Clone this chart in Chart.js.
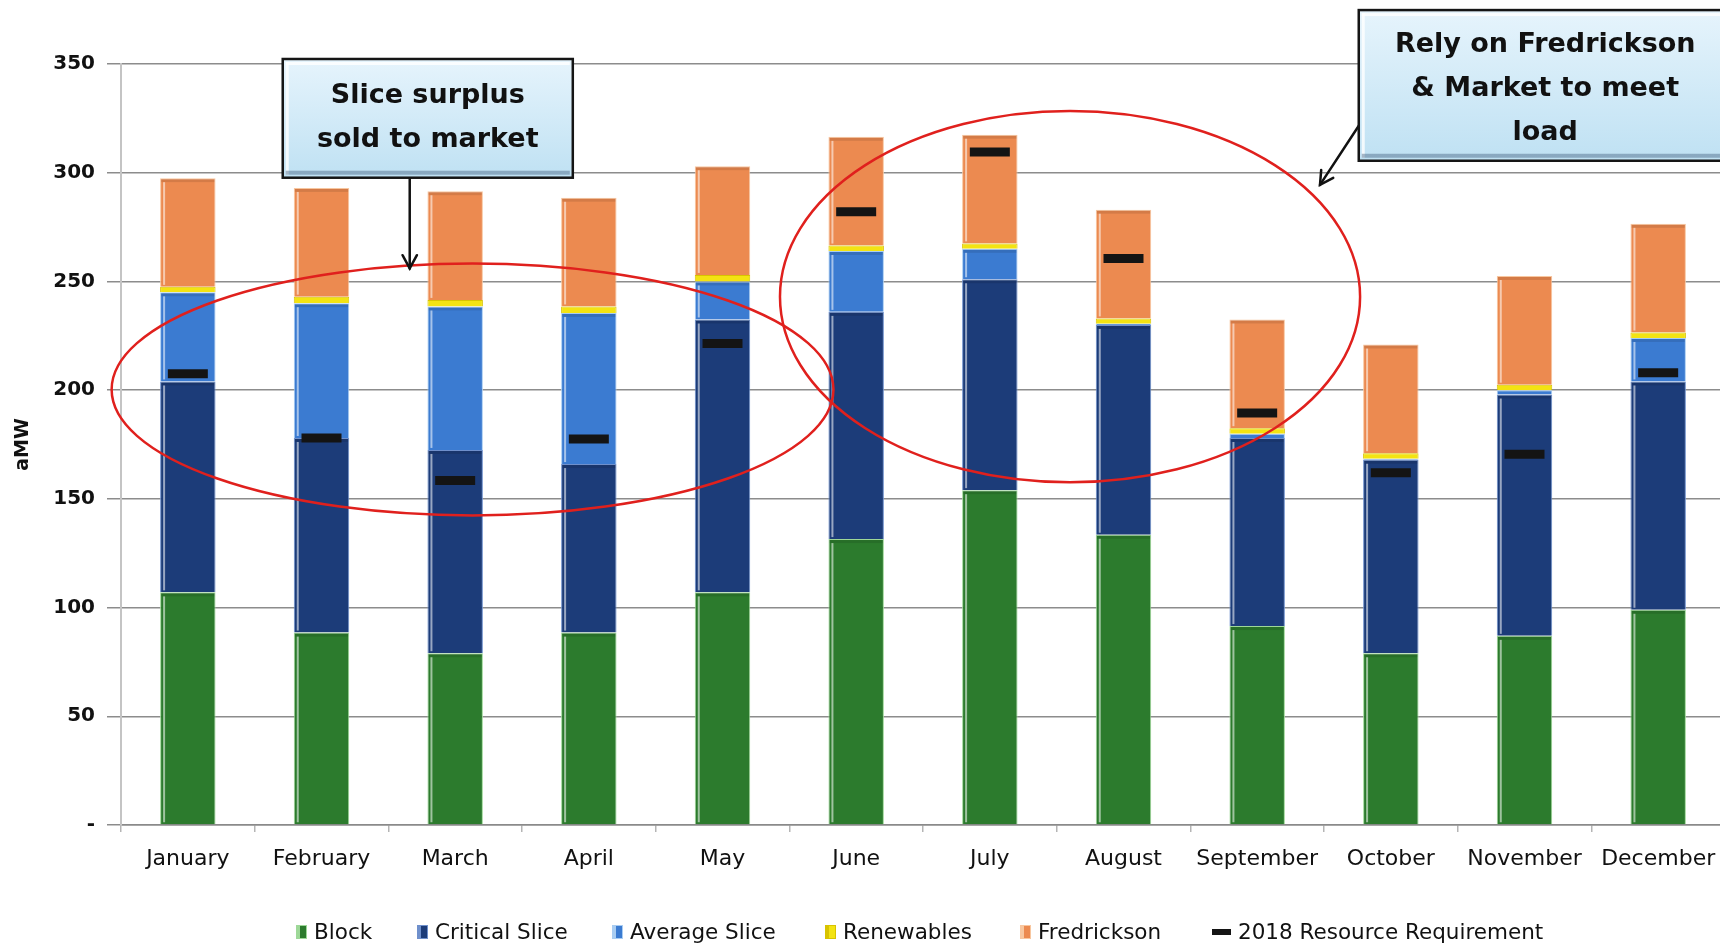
<!DOCTYPE html>
<html lang="en">
<head>
<meta charset="utf-8">
<title>Monthly Resource Stack</title>
<script src="https://cdn.jsdelivr.net/npm/chart.js@4.4.1/dist/chart.umd.min.js"></script>
<style>
  html, body { margin: 0; padding: 0; background: #fff; overflow: hidden; }
  #wrap { position: relative; width: 1732px; height: 947px; overflow: hidden; }
  #chart { position: absolute; left: 0; top: 0; }
  #legend {
    position: absolute; left: 0; top: 919px; width: 1720px; height: 26px;
    font-family: "DejaVu Sans", sans-serif; font-size: 21.5px; color: #111;
    white-space: nowrap; line-height: 26px;
  }
  #legend .item { position: absolute; top: 0; display: flex; align-items: center; gap: 7px; }
  #legend .sw { width: 11px; height: 14px; box-sizing: border-box; }
  #legend .dash { width: 19px; height: 6px; background: #141414; }
</style>
</head>
<body>
<div id="wrap">
  <canvas id="chart" width="1732" height="947"></canvas>
  <div id="legend"></div>
</div>
<script>
// aMW by month, stacked by resource
const months = ["January", "February", "March", "April", "May", "June",
  "July", "August", "September", "October", "November", "December"];
const block = [107, 88.5, 79, 88.5, 107, 131.5, 154, 133.5, 91.5, 79, 87, 99];
const criticalSlice = [97, 89.5, 93.5, 77.5, 125.5, 104.5, 97, 96.5, 86.5, 89, 111, 105];
const averageSlice = [41, 62, 66, 69.5, 17.5, 28, 14, 0.5, 2, 0.5, 2, 20];
const renewables = [2.5, 3, 3, 3, 3, 2.5, 2.5, 2.5, 2.5, 2.5, 2.5, 2.5];
const fredrickson = [50, 50, 50, 50, 50, 50, 50, 50, 50, 50, 50, 50];
const requirement2018 = [207.5, 178, 158.5, 177.5, 221.5, 282, 309.5, 260.5, 189.5, 162, 170.5, 208];
const yMax = 350;
const yStep = 50;

// callouts, placed in axis units (category index, aMW)
const ellipses = [
  { cx: 2.13, cy: 200.3, rx: 2.70, ry: 57.9 },
  { cx: 6.60, cy: 243, rx: 2.17, ry: 85.4 }
];
const boxes = [
  { x0: 0.71, x1: 2.88, y0: 352.3, y1: 297.7, lines: ["Slice surplus", "sold to market"], shift: 0 },
  { x0: 8.76, x1: 11.55, y0: 374.8, y1: 305.5, lines: ["Rely on Fredrickson", "& Market to meet", "load"], shift: 4 }
];
const arrows = [
  { from: [1.66, 297.7], to: [1.66, 256] },
  { from: [8.77, 322.5], to: [8.47, 294.4] }
];

const stack = [
  { label: "Block", data: block, color: "#2c7b2d", edge: "#9ed898" },
  { label: "Critical Slice", data: criticalSlice, color: "#1c3c79", edge: "#6f90cc" },
  { label: "Average Slice", data: averageSlice, color: "#3b7bd1", edge: "#a9cdf2" },
  { label: "Renewables", data: renewables, color: "#f3e312", edge: "#d8c300" },
  { label: "Fredrickson", data: fredrickson, color: "#ec8a50", edge: "#f8c7a0" }
];

const datasets = stack.map(s => ({
  type: "bar",
  label: s.label,
  data: s.data,
  backgroundColor: s.color,
  borderColor: s.edge,
  borderWidth: 1,
  barPercentage: 0.415,
  categoryPercentage: 1,
  stack: "res",
  order: 1
}));
datasets.push({
  type: "line",
  label: "2018 Resource Requirement",
  data: requirement2018,
  showLine: false,
  pointStyle: "line",
  pointRadius: 20,
  pointHoverRadius: 20,
  pointBorderWidth: 9,
  pointBorderColor: "#141414",
  borderColor: "#141414",
  stack: "req",
  order: 0
});

// light left edge on each bar segment
const bevel = {
  id: "bevel",
  afterDatasetDraw(chart, args) {
    const meta = args.meta;
    if (meta.type !== "bar") return;
    const ctx = chart.ctx;
    ctx.save();
    meta.data.forEach(bar => {
      const p = bar.getProps(["x", "y", "base", "width"], true);
      const top = Math.min(p.y, p.base);
      const h = Math.abs(p.base - p.y);
      if (h < 7) return;
      const left = p.x - p.width / 2;
      ctx.fillStyle = "rgba(255,255,255,0.55)";
      ctx.fillRect(left + 3, top + 4, 2, h - 6);
      ctx.fillStyle = "rgba(0,0,0,0.10)";
      ctx.fillRect(left + 1, top + 1, p.width - 2, 3);
    });
    ctx.restore();
  }
};

function arrowHead(ctx, x0, y0, x1, y1, len) {
  const a = Math.atan2(y1 - y0, x1 - x0);
  ctx.beginPath();
  ctx.moveTo(x1 - len * Math.cos(a - 0.5), y1 - len * Math.sin(a - 0.5));
  ctx.lineTo(x1, y1);
  ctx.lineTo(x1 - len * Math.cos(a + 0.5), y1 - len * Math.sin(a + 0.5));
  ctx.stroke();
}

const callouts = {
  id: "callouts",
  afterDraw(chart) {
    const { ctx, scales: { x, y } } = chart;
    const px = v => x.getPixelForValue(v);
    const py = v => y.getPixelForValue(v);
    const ux = px(1) - px(0);
    const uy = py(0) - py(1);
    ctx.save();

    ctx.strokeStyle = "#e0201d";
    ctx.lineWidth = 2.5;
    ellipses.forEach(e => {
      ctx.beginPath();
      ctx.ellipse(px(e.cx), py(e.cy), e.rx * ux, e.ry * uy, 0, 0, Math.PI * 2);
      ctx.stroke();
    });

    ctx.strokeStyle = "#111";
    ctx.lineWidth = 2.5;
    ctx.lineCap = "round";
    arrows.forEach(a => {
      const x0 = px(a.from[0]), y0 = py(a.from[1]);
      const x1 = px(a.to[0]), y1 = py(a.to[1]);
      ctx.beginPath();
      ctx.moveTo(x0, y0);
      ctx.lineTo(x1, y1);
      ctx.stroke();
      arrowHead(ctx, x0, y0, x1, y1, 15);
    });

    boxes.forEach(b => {
      const l = px(b.x0), r = px(b.x1), t = py(b.y0), btm = py(b.y1);
      const g = ctx.createLinearGradient(0, t, 0, btm);
      g.addColorStop(0, "#e6f4fc");
      g.addColorStop(1, "#bfe1f3");
      ctx.fillStyle = g;
      ctx.fillRect(l, t, r - l, btm - t);
      // inner bevel
      ctx.fillStyle = "rgba(255,255,255,0.8)";
      ctx.fillRect(l + 3, t + 3, r - l - 6, 3);
      ctx.fillRect(l + 3, t + 3, 3, btm - t - 6);
      ctx.fillStyle = "rgba(70,100,130,0.45)";
      ctx.fillRect(l + 3, btm - 7, r - l - 6, 4);
      ctx.lineWidth = 2.5;
      ctx.strokeStyle = "#151515";
      ctx.strokeRect(l, t, r - l, btm - t);

      ctx.fillStyle = "#111";
      ctx.font = "bold 27px 'DejaVu Sans'";
      ctx.textAlign = "center";
      ctx.textBaseline = "middle";
      const lh = 44;
      const cy = (t + btm) / 2 + b.shift - (b.lines.length - 1) * lh / 2;
      b.lines.forEach((txt, i) => ctx.fillText(txt, (l + r) / 2, cy + i * lh));
    });
    ctx.restore();
  }
};

new Chart(document.getElementById("chart"), {
  data: { labels: months, datasets },
  options: {
    responsive: false,
    devicePixelRatio: 1,
    animation: false,
    // the wide requirement markers would otherwise pad the plot edges
    layout: { autoPadding: false, padding: { top: 64, right: 7, bottom: 0, left: 0 } },
    plugins: {
      legend: { display: false },
      tooltip: { enabled: false }
    },
    scales: {
      x: {
        stacked: true,
        grid: { display: true, drawOnChartArea: false, drawTicks: true, tickLength: 7, color: "#b5b5b5", lineWidth: 1.5 },
        border: { display: true, color: "#8a8a8a", width: 1.5 },
        ticks: { font: { family: "DejaVu Sans", size: 22 }, color: "#111", padding: 14 },
        afterFit: s => {
          s.height = 122;
          s.paddingLeft = 0;
          s.paddingRight = 0;
        }
      },
      y: {
        stacked: true,
        min: 0,
        max: yMax,
        ticks: {
          stepSize: yStep,
          font: { family: "DejaVu Sans", size: 20, weight: "bold" },
          color: "#111",
          padding: 12,
          callback: v => (v === 0 ? "-" : v)
        },
        grid: { color: "#8c8c8c", lineWidth: 1.5, tickLength: 14 },
        border: { display: true, color: "#c4c4c4", width: 2 },
        title: {
          display: true,
          text: "aMW",
          font: { family: "DejaVu Sans", size: 19, weight: "bold" },
          color: "#111",
          padding: { top: 12, bottom: 0 }
        },
        afterFit: s => {
          s.width = 121;
          s.paddingTop = 0;
          s.paddingBottom = 0;
        }
      }
    }
  },
  plugins: [bevel, callouts]
});

// legend row under the axis
const legendEl = document.getElementById("legend");
const legendLeft = [296, 417, 612, 825, 1020, 1212];
const legendItems = stack.map(s => ({ label: s.label, color: s.color, edge: s.edge }));
legendItems.push({ label: "2018 Resource Requirement", dash: true });
legendItems.forEach((it, i) => {
  const item = document.createElement("div");
  item.className = "item";
  item.style.left = legendLeft[i] + "px";
  const sw = document.createElement("span");
  if (it.dash) {
    sw.className = "dash";
  } else {
    sw.className = "sw";
    sw.style.background = `linear-gradient(to right, ${it.edge} 0 3px, ${it.color} 3px)`;
    sw.style.border = `1px solid ${it.edge}`;
  }
  const txt = document.createElement("span");
  txt.textContent = it.label;
  item.append(sw, txt);
  legendEl.append(item);
});
</script>
</body>
</html>
